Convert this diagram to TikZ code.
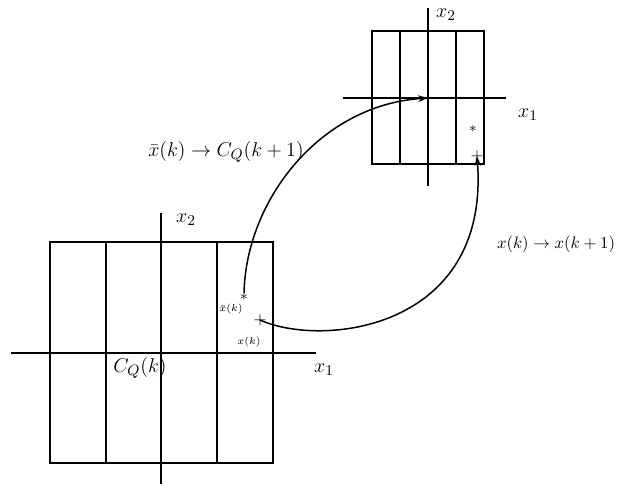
\documentclass[tikz,border=0pt]{standalone}
\usepackage{tikz}
\usetikzlibrary{positioning, arrows.meta}

\begin{document}
\begin{tikzpicture}[x=0.6pt, y=-0.6pt,
    gridline/.style={line width=1.1pt},
    axisline/.style={line width=1.1pt},
    flow/.style={line width=0.9pt, -{Stealth[length=6pt, width=4pt]}},
    axislabel/.style={font=\fontsize{12.5}{14}\selectfont, inner sep=0pt},
    steplabel/.style={inner sep=0pt},
    pointmark/.style={font=\fontsize{9}{10}\selectfont, inner sep=0pt}]
  \useasboundingbox (0,0) rectangle (621,489);

  % cells at time k
  \draw[gridline] (50,242) rectangle (273,463);
  \foreach \x in {106,217}
    \draw[gridline] (\x,242) -- (\x,463);
  \draw[axisline] (11,353) -- (316,353);
  \draw[axisline] (161,213) -- (161,484);
  \node[axislabel] (bigxone) at (324,370) {$x_1$};
  \node[axislabel] (bigxtwo) at (186,220) {$x_2$};
  \node[inner sep=0pt, font=\fontsize{13}{15}\selectfont] (cell) at (140,368) {$C_Q(k)$};

  % cells at time k+1
  \draw[gridline] (372,31) rectangle (484,164);
  \foreach \x in {400,456}
    \draw[gridline] (\x,31) -- (\x,164);
  \draw[axisline] (343,98) -- (506,98);
  \draw[axisline] (428,8) -- (428,186);
  \coordinate (origin) at (428,98);
  \node[axislabel] (smallxone) at (528,115) {$x_1$};
  \node[axislabel] (smallxtwo) at (446,15) {$x_2$};

  % points
  \node[pointmark] (bigstar) at (244,297) {$*$};
  \node[pointmark, font=\fontsize{10}{11}\selectfont] (bigplus) at (260,320) {$+$};
  \node[pointmark] (smallstar) at (473,129) {$*$};
  \node[pointmark, font=\fontsize{10}{11}\selectfont] (smallplus) at (477,156) {$+$};
  \node[steplabel, font=\fontsize{6.5}{8}\selectfont] (xbarlabel) at (231,309) {$\bar{x}(k)$};
  \node[steplabel, font=\fontsize{6.5}{8}\selectfont] (xlabel) at (249,342) {$x(k)$};

  % transitions
  \draw[flow] (bigstar.north) .. controls (246,200) and (320,105) .. (origin);
  \draw[flow] (bigplus.center) .. controls (322,348) and (490,330) .. (smallplus.center);
  \node[steplabel, font=\fontsize{12.5}{14}\selectfont] (celljump) at (226,152) {$\bar{x}(k)\rightarrow C_Q(k+1)$};
  \node[steplabel, font=\fontsize{9.7}{12}\selectfont] (statejump) at (556,244) {$x(k)\rightarrow x(k+1)$};
\end{tikzpicture}
\end{document}
